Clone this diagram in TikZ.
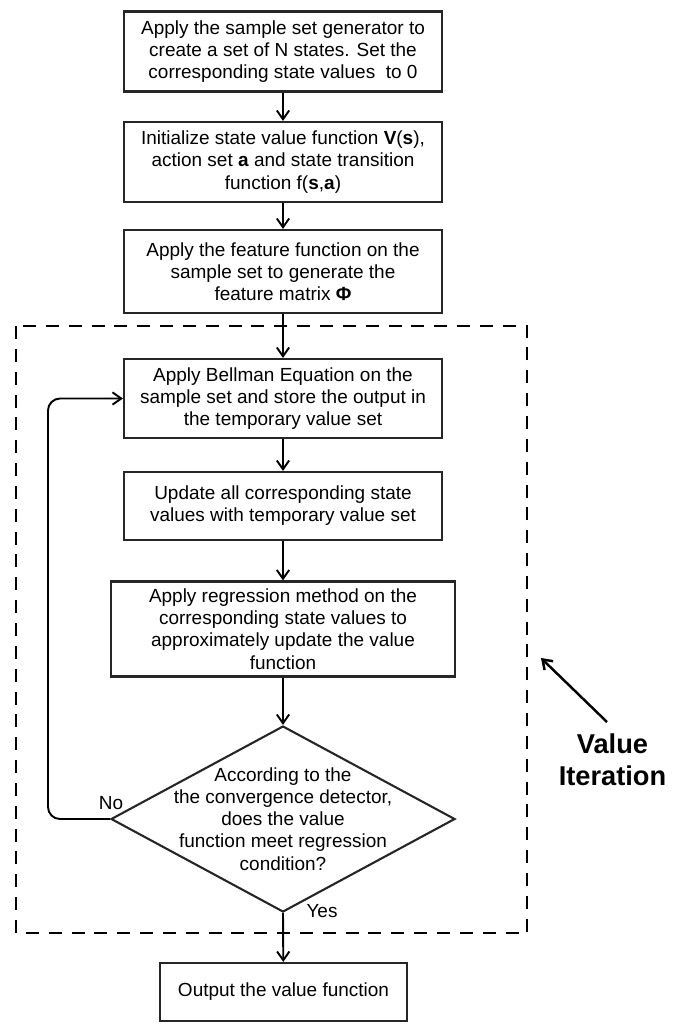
\documentclass[tikz,border=0pt]{standalone}
\usepackage{fontspec}
\setmainfont{Liberation Sans}
\usetikzlibrary{arrows.meta,shapes.geometric}

\tikzset{
    stage/.style={draw=black!85, line width=1.2pt, fill=white, align=center,
        inner sep=0pt, minimum width=6.36cm, font=\fontsize{10.8pt}{12.6pt}\selectfont},
    check/.style={draw=black!85, line width=1.2pt, diamond, aspect=1.85,
        inner sep=0pt, minimum width=6.88cm, minimum height=3.72cm},
    flow/.style={line width=1.1pt, -{Straight Barb[length=5pt,width=7pt]}},
    loopframe/.style={line width=1.4pt, dash pattern=on 7.4pt off 5.6pt},
    tag/.style={font=\fontsize{10.8pt}{12.6pt}\selectfont}
}

\begin{document}
\begin{tikzpicture}
    \useasboundingbox (0,0) rectangle (13.46,-20.48);

    % value iteration frame
    \draw[loopframe] (0.32,-6.52) rectangle (10.54,-18.66);

    \node[stage, minimum height=1.6cm] (gen) at (5.66,-1.03)
        {Apply the sample set generator to\\ create a set of N states. Set the\\ corresponding state values\ \ to 0};
    \node[stage, minimum height=1.6cm] (init) at (5.66,-3.24)
        {Initialize state value function \textbf{V}(\textbf{s}),\\ action set \textbf{a} and state transition\\ function f(\textbf{s},\textbf{a})};
    \node[stage, minimum height=1.66cm] (feat) at (5.66,-5.43)
        {Apply the feature function on the\\ sample set to generate the\\ feature matrix \textbf{Φ}};

    \node[stage, minimum height=1.58cm] (bell) at (5.66,-7.97)
        {Apply Bellman Equation on the\\ sample set and store the output in\\ the temporary value set};
    \node[stage, minimum height=1.36cm] (upd) at (5.66,-10.12)
        {Update all corresponding state\\ values with temporary value set};
    \node[stage, minimum height=1.9cm, minimum width=6.88cm] (regr) at (5.66,-12.58)
        {Apply regression method on the\\ corresponding state values to\\ approximately update the value\\ function};

    \node[check] (conv) at (5.66,-16.38) {};
    \node[tag, align=center] (convtext) at (conv)
        {According to the\\ the convergence detector,\\ does the value\\ function meet regression\\ condition?};

    \node[stage, minimum height=1.16cm, minimum width=4.94cm] (out) at (5.67,-19.84)
        {Output the value function};

    \draw[flow] (gen) -- (init);
    \draw[flow] (init) -- (feat);
    \draw[flow] (feat) -- (bell);
    \draw[flow] (bell) -- (upd);
    \draw[flow] (upd) -- (regr);
    \draw[flow] (regr) -- (conv);
    \draw[flow] (conv.south) -- (out);

    % No branch back to Bellman step
    \coordinate (back) at (0.96,-12);
    \draw[flow, rounded corners=0.24cm] (conv.west) -| (back) |- (bell.west);

    \node[tag] (no) at (2.22,-16.06) {No};
    \node[tag] (yes) at (6.44,-18.22) {Yes};

    % label for the frame
    \node[align=center, font=\fontsize{15.5pt}{18.2pt}\selectfont\bfseries] (vi) at (12.25,-15.19)
        {Value\\ Iteration};
    \coordinate (vitail) at (12.14,-14.44);
    \coordinate (vihead) at (10.82,-13.16);
    \draw[flow, line width=1.4pt] (vitail) -- (vihead);

\end{tikzpicture}
\end{document}
